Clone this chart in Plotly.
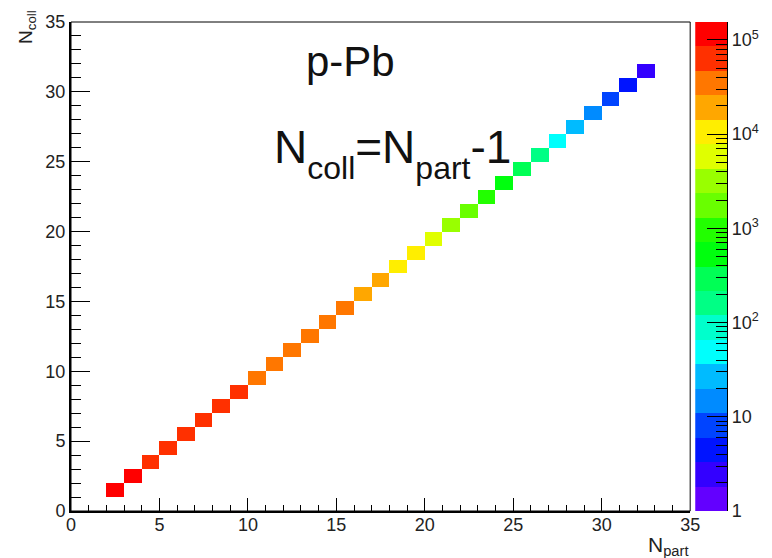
import math
import plotly.graph_objects as go

# Number of participants (bin lower edges) and the corresponding number of collisions
npart = [2, 3, 4, 5, 6, 7, 8, 9, 10, 11, 12, 13, 14, 15, 16, 17,
         18, 19, 20, 21, 22, 23, 24, 25, 26, 27, 28, 29, 30, 31, 32]
ncoll = [1, 2, 3, 4, 5, 6, 7, 8, 9, 10, 11, 12, 13, 14, 15, 16,
         17, 18, 19, 20, 21, 22, 23, 24, 25, 26, 27, 28, 29, 30, 31]
# Event counts per (Npart, Ncoll) cell
counts = [120000, 95000, 80000, 74000, 68000, 62000, 56000, 51000,
          45000, 41000, 37000, 33000, 30000, 27000, 23000, 18000,
          13000, 9500, 6000, 3500, 1800, 1000, 520, 280, 140,
          50, 26, 14, 8, 4, 2]

z_max = 1.55e5
log_max = math.log10(z_max)
n_contours = 20

# ROOT "pretty" palette (violet -> red), sampled for 20 contour levels
def hls_color(hue):
    h = hue / 60.0
    x = 1 - abs(h % 2 - 1)
    if h < 1: r, g, b = 1, x, 0
    elif h < 2: r, g, b = x, 1, 0
    elif h < 3: r, g, b = 0, 1, x
    elif h < 4: r, g, b = 0, x, 1
    elif h < 5: r, g, b = x, 0, 1
    else: r, g, b = 1, 0, x
    return "rgb(%d,%d,%d)" % (round(r * 255), round(g * 255), round(b * 255))

band_colors = []
for k in range(n_contours):
    j = int((k + 0.99) * 50 / n_contours)
    hue = 0.0 if j >= 49 else 280 - (j + 1) * 5.6
    band_colors.append(hls_color(hue))

colorscale = []
for k, c in enumerate(band_colors):
    colorscale.append([k / n_contours, c])
    colorscale.append([(k + 1) / n_contours, c])

# Build the 2D histogram grid (unit bins)
xc = [v + 0.5 for v in range(0, 35)]
yc = [v + 0.5 for v in range(0, 35)]
z = [[None] * len(xc) for _ in yc]
for n, c, w in zip(npart, ncoll, counts):
    z[c][n] = math.log10(w)

font_family = "Liberation Sans, Arial, Helvetica, sans-serif"

fig = go.Figure()
fig.add_trace(go.Heatmap(
    x=xc, y=yc, z=z,
    zmin=0, zmax=log_max,
    colorscale=colorscale,
    hoverongaps=False,
    showscale=False,
))

# Palette strip with a logarithmic axis (drawn as its own small subplot)
band_edges = [10 ** (k * log_max / n_contours) for k in range(n_contours + 1)]
band_levels = [[(k + 0.5) * log_max / n_contours] for k in range(n_contours)]
fig.add_trace(go.Heatmap(
    x=[0, 1], y=band_edges, z=band_levels,
    zmin=0, zmax=log_max, colorscale=colorscale,
    showscale=False, xaxis="x2", yaxis="y2", hoverinfo="skip",
))

minor_vals = [m * 10 ** d for d in range(0, 6) for m in range(2, 10) if m * 10 ** d <= z_max]

# Subscripts set lower than the default <sub> offset
def low_sub(s, size, shift):
    return "<span style='font-size:%dpx;baseline-shift:-%dpx'>%s</span>" % (size, shift, s)

formula = "N" + low_sub("coll", 32, 16) + "=N" + low_sub("part", 32, 16) + "-1"

fig.update_layout(
    width=772, height=558,
    margin=dict(l=71, r=20, t=17, b=47),
    paper_bgcolor="white", plot_bgcolor="white",
    font=dict(family=font_family, color="black", size=18),
    showlegend=False,
    xaxis=dict(
        domain=[0, 0.9119], range=[0, 35], dtick=5, tick0=0,
        ticks="inside", ticklen=13, tickwidth=1, tickcolor="black",
        minor=dict(ticks="inside", ticklen=6, dtick=1, tickcolor="black", showgrid=False),
        showline=True, linewidth=2, linecolor="black",
        showgrid=False, zeroline=False, ticklabelstandoff=-4,
        tickfont=dict(size=18, color="#222"),
    ),
    yaxis=dict(
        range=[0, 35], dtick=5, tick0=0,
        ticks="inside", ticklen=19, tickwidth=1, tickcolor="black",
        minor=dict(ticks="inside", ticklen=10, dtick=1, tickcolor="black", showgrid=False),
        showline=True, linewidth=2, linecolor="black",
        showgrid=False, zeroline=False,
        tickfont=dict(size=18, color="#222"),
    ),
    xaxis2=dict(
        domain=[0.9192, 0.9662], range=[0, 1], anchor="y2",
        visible=False, fixedrange=True,
    ),
    yaxis2=dict(
        type="log", range=[0, log_max], anchor="x2", side="right",
        tickmode="array",
        tickvals=[1, 10, 100, 1000, 10000, 100000],
        ticktext=["1", "10", "10<sup>2</sup>", "10<sup>3</sup>", "10<sup>4</sup>", "10<sup>5</sup>"],
        ticks="inside", ticklen=20, tickwidth=1, tickcolor="black",
        minor=dict(
            ticks="inside", ticklen=11, tickcolor="black", showgrid=False,
            tickmode="array", tickvals=minor_vals,
        ),
        showline=True, linewidth=1, linecolor="black",
        showgrid=False, zeroline=False, fixedrange=True,
        tickfont=dict(size=18, color="#222"),
    ),
    shapes=[dict(type="rect", xref="x domain", yref="y domain",
                 x0=0, x1=1, y0=0, y1=1, line=dict(color="black", width=1))],
    annotations=[
        dict(text="p-Pb", xref="x", yref="y", x=15.8, y=32.2,
             showarrow=False, font=dict(size=42, color="#111")),
        dict(text=formula, xref="x", yref="y",
             x=18.15, y=25.6, showarrow=False, font=dict(size=46, color="#111")),
        dict(text="N<sub>part</sub>", xref="x domain", yref="y domain",
             x=1, y=0, xanchor="right", yanchor="top", yshift=-20,
             showarrow=False, font=dict(size=21, color="#222")),
        dict(text="N<sub>coll</sub>", xref="x domain", yref="y domain",
             x=0, y=1, xanchor="center", yanchor="top", xshift=-44, yshift=14,
             textangle=-90, showarrow=False, font=dict(size=19, color="#222")),
    ],
)

fig.write_html("out.html")
